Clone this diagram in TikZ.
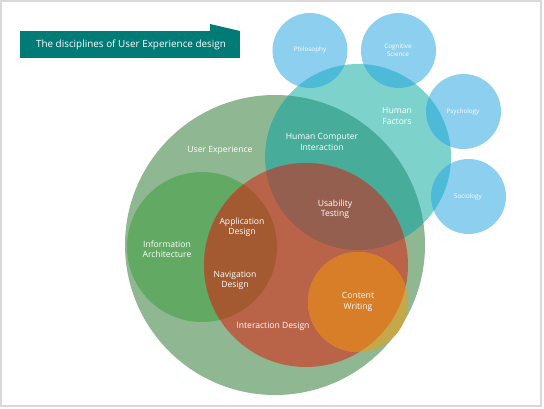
\documentclass[tikz,border=0pt]{standalone}
\usepackage{fontspec}
\setmainfont{Open Sans}
\definecolor{bigG}{HTML}{8FB892}
\definecolor{iaG}{HTML}{62A963}
\definecolor{redI}{HTML}{B96449}
\definecolor{redIA}{HTML}{A35A30}
\definecolor{tealH}{HTML}{7DD3CC}
\definecolor{hciC}{HTML}{47AD9A}
\definecolor{usabC}{HTML}{955F4F}
\definecolor{orangeC}{HTML}{D87D28}
\definecolor{oliveC}{HTML}{C4A84A}
\definecolor{blueC}{HTML}{8DCFEF}
\definecolor{blueT}{HTML}{4DBAD8}
\definecolor{titleC}{HTML}{007B76}
\definecolor{frameC}{HTML}{D9D9D9}
\tikzset{
  lbl/.style={text=white, align=center, inner sep=0pt, font=\fontsize{8.6}{10.2}\selectfont},
  slbl/.style={text=white, align=center, inner sep=0pt, font=\fontsize{6.3}{8}\selectfont},
}
\begin{document}
\begin{tikzpicture}[x=1pt,y=-1pt]
\useasboundingbox (0,0) rectangle (544,408);
\fill[white] (0,0) rectangle (544,408);
\draw[frameC, line width=2pt] (1,1) -- (1,406) -- (541,406) -- (541,1) -- cycle;
% circle geometry
\def\UX{(275,245) circle (150)}
\def\IA{(202,247) circle (75)}
\def\ID{(306,265) circle (102)}
\def\HF{(358,157) circle (93)}
\def\CW{(358,302) circle (50)}
\def\PH{(310,50.5) circle (37.5)}
\def\CS{(398.5,50.5) circle (37.5)}
\def\PS{(463.5,111.5) circle (37.5)}
\def\SO{(468.5,196.5) circle (37.5)}
% big green
\fill[bigG] \UX;
% human factors
\fill[tealH] \HF;
\begin{scope}\clip \HF; \fill[hciC] \UX; \end{scope}
% information architecture
\fill[iaG] \IA;
% interaction design
\fill[redI] \ID;
\begin{scope}\clip \ID; \fill[redIA] \IA; \fill[usabC] \HF; \end{scope}
% content writing
\fill[oliveC] \CW;
\begin{scope}\clip \ID; \fill[orangeC] \CW; \end{scope}
% blue circles
\foreach \c in {\PH,\CS,\PS,\SO}{
  \fill[blueC] \c;
  \begin{scope}\clip \c; \fill[blueT] \HF; \end{scope}
}
% title banner
\fill[titleC] (210,24) -- (240,31) -- (210,31) -- cycle;
\fill[titleC] (20,31) rectangle (240,58);
\node[text=white, inner sep=0pt, font=\fontsize{9.9}{11}\selectfont] (title) at (131,44.5) {The disciplines of User Experience design};
% labels
\node[lbl] (ux) at (220,150) {User Experience};
\node[lbl] (hci) at (322,142) {Human Computer\\Interaction};
\node[lbl] (hf) at (397,116) {Human\\Factors};
\node[lbl] (ut) at (335,209) {Usability\\Testing};
\node[lbl] (ad) at (242,227) {Application\\Design};
\node[lbl] (ia) at (167,249) {Information\\Architecture};
\node[lbl] (nd) at (235,280) {Navigation\\Design};
\node[lbl] (id) at (273,326) {Interaction Design};
\node[lbl] (cw) at (358,302) {Content\\Writing};
\node[slbl] (ph) at (310,50) {Philosophy};
\node[slbl] (cs) at (398,50) {Cognitive\\Science};
\node[slbl] (ps) at (463,112) {Psychology};
\node[slbl] (so) at (468,197) {Sociology};
\end{tikzpicture}
\end{document}
